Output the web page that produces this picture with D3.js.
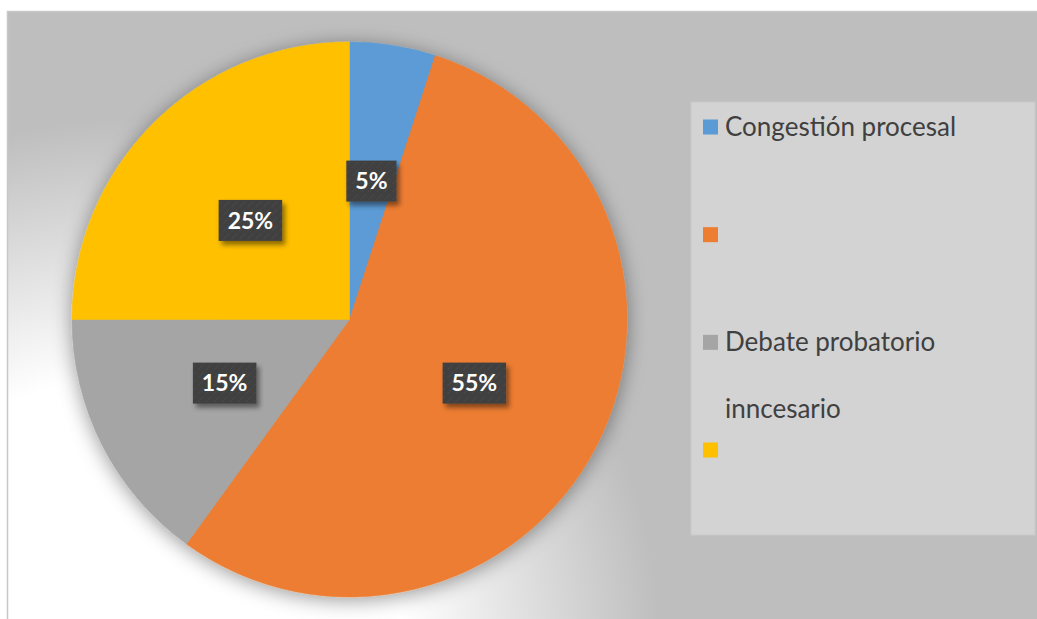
<!DOCTYPE html>
<html>
<head>
<meta charset="utf-8">
<script src="https://cdn.jsdelivr.net/npm/d3@7"></script>
<style>
  html, body { margin: 0; padding: 0; background: #fff; }
  svg { display: block; }
</style>
</head>
<body>
<svg id="chart" width="1037" height="619"></svg>
<script>
// Data
var categories = ["Congestión procesal", "", "Debate probatorio inncesario", ""];
var values = [5, 55, 15, 25];
var colors = ["#5b9bd5", "#ed7d31", "#a5a5a5", "#ffc000"];

// Dimensions
var width = 1037;
var height = 619;
var cx = 349.5;
var cy = 319.5;
var radius = 277.5;

var svg = d3.select("#chart");
var defs = svg.append("defs");

// background glow in the lower left corner
var glow = defs.append("radialGradient")
  .attr("id", "bg-glow")
  .attr("gradientUnits", "userSpaceOnUse")
  .attr("cx", 130).attr("cy", 650).attr("r", 570);
glow.append("stop").attr("offset", 0).attr("stop-color", "#ffffff");
glow.append("stop").attr("offset", 0.48).attr("stop-color", "#ffffff");
glow.append("stop").attr("offset", 0.93).attr("stop-color", "#bebebe");

var pieShadow = defs.append("filter")
  .attr("id", "pie-shadow")
  .attr("x", "-20%").attr("y", "-20%")
  .attr("width", "140%").attr("height", "140%");
pieShadow.append("feDropShadow")
  .attr("dx", 0).attr("dy", 3)
  .attr("stdDeviation", 10)
  .attr("flood-color", "#000")
  .attr("flood-opacity", 0.4);

var boxShadow = defs.append("filter")
  .attr("id", "box-shadow")
  .attr("x", "-30%").attr("y", "-30%")
  .attr("width", "170%").attr("height", "170%");
boxShadow.append("feDropShadow")
  .attr("dx", 3).attr("dy", 4)
  .attr("stdDeviation", 2.5)
  .attr("flood-color", "#000")
  .attr("flood-opacity", 0.45);

// faint diagonal texture on the label boxes
var pat = defs.append("pattern")
  .attr("id", "label-pat")
  .attr("patternUnits", "userSpaceOnUse")
  .attr("width", 8).attr("height", 8);
pat.append("rect").attr("width", 8).attr("height", 8).attr("fill", "#404040");
pat.append("path")
  .attr("d", "M0,8 L3,5 M5,3 L8,0")
  .attr("stroke", "#4a4a4a")
  .attr("stroke-width", 1);

// chart area
svg.append("rect")
  .attr("x", 7.5).attr("y", 11.5)
  .attr("width", width).attr("height", height)
  .attr("fill", "#bebebe");
svg.append("rect")
  .attr("x", 7.5).attr("y", 11.5)
  .attr("width", width).attr("height", height)
  .attr("fill", "url(#bg-glow)")
  .attr("stroke", "#c8c8c8")
  .attr("stroke-width", 1.5);

// pie
var pie = d3.pie().sort(null).value(function(d) { return d; });
var arcs = pie(values);
var arc = d3.arc().innerRadius(0).outerRadius(radius);
var labelArc = d3.arc().innerRadius(radius * 0.505).outerRadius(radius * 0.505);

var g = svg.append("g").attr("transform", "translate(" + cx + "," + cy + ")");

g.append("g")
  .attr("filter", "url(#pie-shadow)")
  .selectAll("path")
  .data(arcs)
  .enter()
  .append("path")
  .attr("d", arc)
  .attr("fill", function(d, i) { return colors[i]; })
  .attr("stroke", function(d, i) { return colors[i]; })
  .attr("stroke-width", 0.5);

var total = d3.sum(values);
var labels = g.selectAll("g.label")
  .data(arcs)
  .enter()
  .append("g")
  .attr("class", "label")
  .attr("transform", function(d) {
    return "translate(" + labelArc.centroid(d) + ")";
  });

labels.append("text")
  .attr("text-anchor", "middle")
  .attr("dy", "0.36em")
  .attr("font-family", "Lato, 'Open Sans', sans-serif")
  .attr("font-weight", "bold")
  .attr("font-size", 23)
  .attr("fill", "#fff")
  .text(function(d) { return Math.round(d.value / total * 100) + "%"; });

labels.each(function() {
  var lab = d3.select(this);
  var bb = lab.select("text").node().getBBox();
  var padX = 9;
  lab.insert("rect", "text")
    .attr("x", bb.x - padX)
    .attr("y", -20.5)
    .attr("width", bb.width + padX * 2)
    .attr("height", 41)
    .attr("fill", "url(#label-pat)")
    .attr("filter", "url(#box-shadow)");
});

// legend
var legendX = 691;
var legendY = 102;
var legendW = 344;
var legendH = 433;

var legend = svg.append("g").attr("id", "legend");
legend.append("rect")
  .attr("x", legendX).attr("y", legendY)
  .attr("width", legendW).attr("height", legendH)
  .attr("fill", "#d3d3d3")
  .attr("stroke", "#c9c9c9")
  .attr("stroke-width", 1);

var rowY = d3.scalePoint()
  .domain(d3.range(categories.length))
  .range([127, 450]);

var rows = legend.selectAll("g.row")
  .data(categories)
  .enter()
  .append("g")
  .attr("class", "row")
  .attr("transform", function(d, i) { return "translate(" + (legendX + 12) + "," + rowY(i) + ")"; });

rows.append("rect")
  .attr("x", 0).attr("y", -7.5)
  .attr("width", 15).attr("height", 15)
  .attr("fill", function(d, i) { return colors[i]; });

var maxTextW = 300;
rows.append("text")
  .attr("x", 22)
  .attr("y", 9)
  .attr("font-family", "Lato, 'Open Sans', sans-serif")
  .attr("font-size", 26)
  .attr("fill", "#404040")
  .each(function(d) {
    var t = d3.select(this);
    var words = d.split(" ").filter(function(w) { return w.length; });
    var line = [];
    var tspan = t.append("tspan").attr("x", 22).attr("dy", 0);
    words.forEach(function(w) {
      line.push(w);
      tspan.text(line.join(" "));
      if (tspan.node().getComputedTextLength() > maxTextW && line.length > 1) {
        line.pop();
        tspan.text(line.join(" "));
        line = [w];
        tspan = t.append("tspan").attr("x", 22).attr("dy", 67).text(w);
      }
    });
  });
</script>
</body>
</html>
